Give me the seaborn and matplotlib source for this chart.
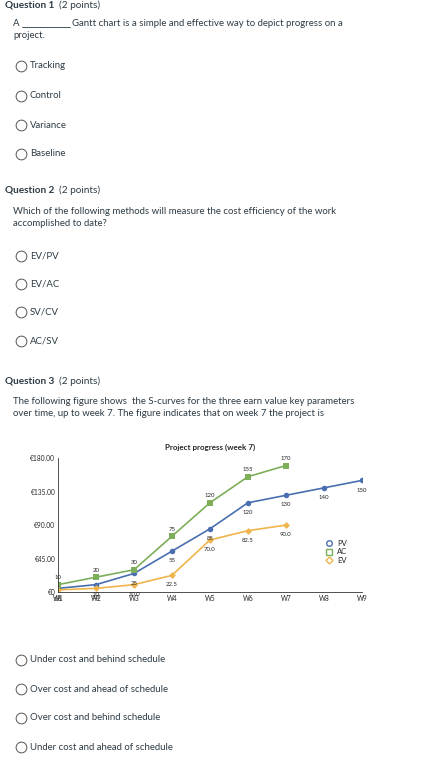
import matplotlib.pyplot as plt
import seaborn as sns
import pandas as pd

weeks = ["W1", "W2", "W3", "W4", "W5", "W6", "W7", "W8", "W9"]
pv = [5, 10, 25, 55, 85, 120, 130, 140, 150]
ac = [10, 20, 30, 75, 120, 155, 170]
ev = [3, 5, 10, 22.5, 70, 82.5, 90]
pv_labels = ["5", "10", "25", "55", "85", "120", "130", "140", "150"]
ac_labels = ["10", "20", "30", "75", "120", "155", "170"]
ev_labels = ["3.0", "5.0", "10.0", "22.5", "70.0", "82.5", "90.0"]
y_ticks = [0, 45, 90, 135, 180]
y_tick_labels = ["€0", "€45.00", "€90.00", "€135.00", "€180.00"]

sns.set_theme(style="white")
plt.rcParams['font.family'] = ['Lato', 'DejaVu Sans']

fig = plt.figure(figsize=(4.28, 7.63), dpi=100)

# 页面文字层，坐标用像素
bg = fig.add_axes([0, 0, 1, 1])
bg.set_xlim(0, 428)
bg.set_ylim(763, 0)
bg.axis("off")

def txt(x, y, s, size=6.9, bold=False):
    bg.text(x, y, s, fontsize=size, fontweight="bold" if bold else "normal",
            va="center", ha="left", color="#2d3b45")

def radio(y, s):
    bg.scatter([21], [y], s=60, facecolors="white", edgecolors="#555", linewidths=0.7)
    txt(30, y, s)

def header(y, s):
    bg.text(5, y, s, fontsize=7.2, fontweight="bold", va="center", color="#2d3b45")
    bg.text(59, y, "(2 points)", fontsize=7.2, va="center", color="#2d3b45")

header(5, "Question 1")
txt(13, 23, "A")
bg.plot([22, 70], [27, 27], color="#2d3b45", lw=0.6)
txt(72, 23, "Gantt chart is a simple and effective way to depict progress on a")
txt(13, 35, "project.")
for y, s in zip([66, 96, 125, 154], ["Tracking", "Control", "Variance", "Baseline"]):
    radio(y, s)

header(190, "Question 2")
txt(13, 211, "Which of the following methods will measure the cost efficiency of the work")
txt(13, 224, "accomplished to date?")
for y, s in zip([256, 284, 312, 341], ["EV/PV", "EV/AC", "SV/CV", "AC/SV"]):
    radio(y, s)

header(381, "Question 3")
txt(13, 401, "The following figure shows  the S-curves for the three earn value key parameters")
txt(13, 414, "over time, up to week 7. The figure indicates that on week 7 the project is")
for y, s in zip([660, 689, 718, 747], ["Under cost and behind schedule",
                                       "Over cost and ahead of schedule",
                                       "Over cost and behind schedule",
                                       "Under cost and ahead of schedule"]):
    radio(y, s)

# 图表
ax = fig.add_axes([0.1355, 0.224, 0.71, 0.1756])
df_pv = pd.DataFrame({"x": range(len(pv)), "y": pv})
df_ac = pd.DataFrame({"x": range(len(ac)), "y": ac})
df_ev = pd.DataFrame({"x": range(len(ev)), "y": ev})
sns.lineplot(data=df_pv, x="x", y="y", ax=ax, color="#4a6fb0", marker="o", markersize=4,
             markeredgewidth=0, lw=1.2, label="PV")
sns.lineplot(data=df_ac, x="x", y="y", ax=ax, color="#7dae5a", marker="s", markersize=4,
             markeredgewidth=0, lw=1.2, label="AC")
sns.lineplot(data=df_ev, x="x", y="y", ax=ax, color="#f0b44c", marker="D", markersize=3.5,
             markeredgewidth=0, lw=1.2, label="EV")
for i, (v, l) in enumerate(zip(pv, pv_labels)):
    ax.annotate(l, (i, v), xytext=(0, -8), textcoords="offset points", ha="center", fontsize=4.3)
for i, (v, l) in enumerate(zip(ac, ac_labels)):
    ax.annotate(l, (i, v), xytext=(0, 4), textcoords="offset points", ha="center", fontsize=4.3)
for i, (v, l) in enumerate(zip(ev, ev_labels)):
    ax.annotate(l, (i, v), xytext=(0, -8), textcoords="offset points", ha="center", fontsize=4.3)

ax.set_xlim(0, len(weeks) - 1)
ax.set_ylim(0, 180)
ax.set_xticks(range(len(weeks)))
ax.set_xticklabels(weeks, fontsize=4.8)
ax.set_yticks(y_ticks)
ax.set_yticklabels(y_tick_labels, fontsize=4.8)
ax.set_xlabel("")
ax.set_ylabel("")
ax.set_title("Project progress (week 7)", fontsize=5.8, fontweight="bold", pad=6)
for side in ["top", "right"]:
    ax.spines[side].set_visible(False)
ax.spines["left"].set_color("#333")
ax.spines["bottom"].set_color("#333")
ax.spines["left"].set_linewidth(0.6)
ax.spines["bottom"].set_linewidth(0.6)
ax.tick_params(axis="both", length=0, pad=2)
leg = ax.legend(loc="center left", bbox_to_anchor=(0.86, 0.3), fontsize=5.5, frameon=False,
                handlelength=0.8, labelspacing=0.2, handletextpad=0.6)
for h in leg.legend_handles:
    h.set_linestyle("")
    h.set_markerfacecolor("white")
    h.set_markeredgewidth(1)
    h.set_markeredgecolor(h.get_color())

fig.savefig("out.png", dpi=100)
